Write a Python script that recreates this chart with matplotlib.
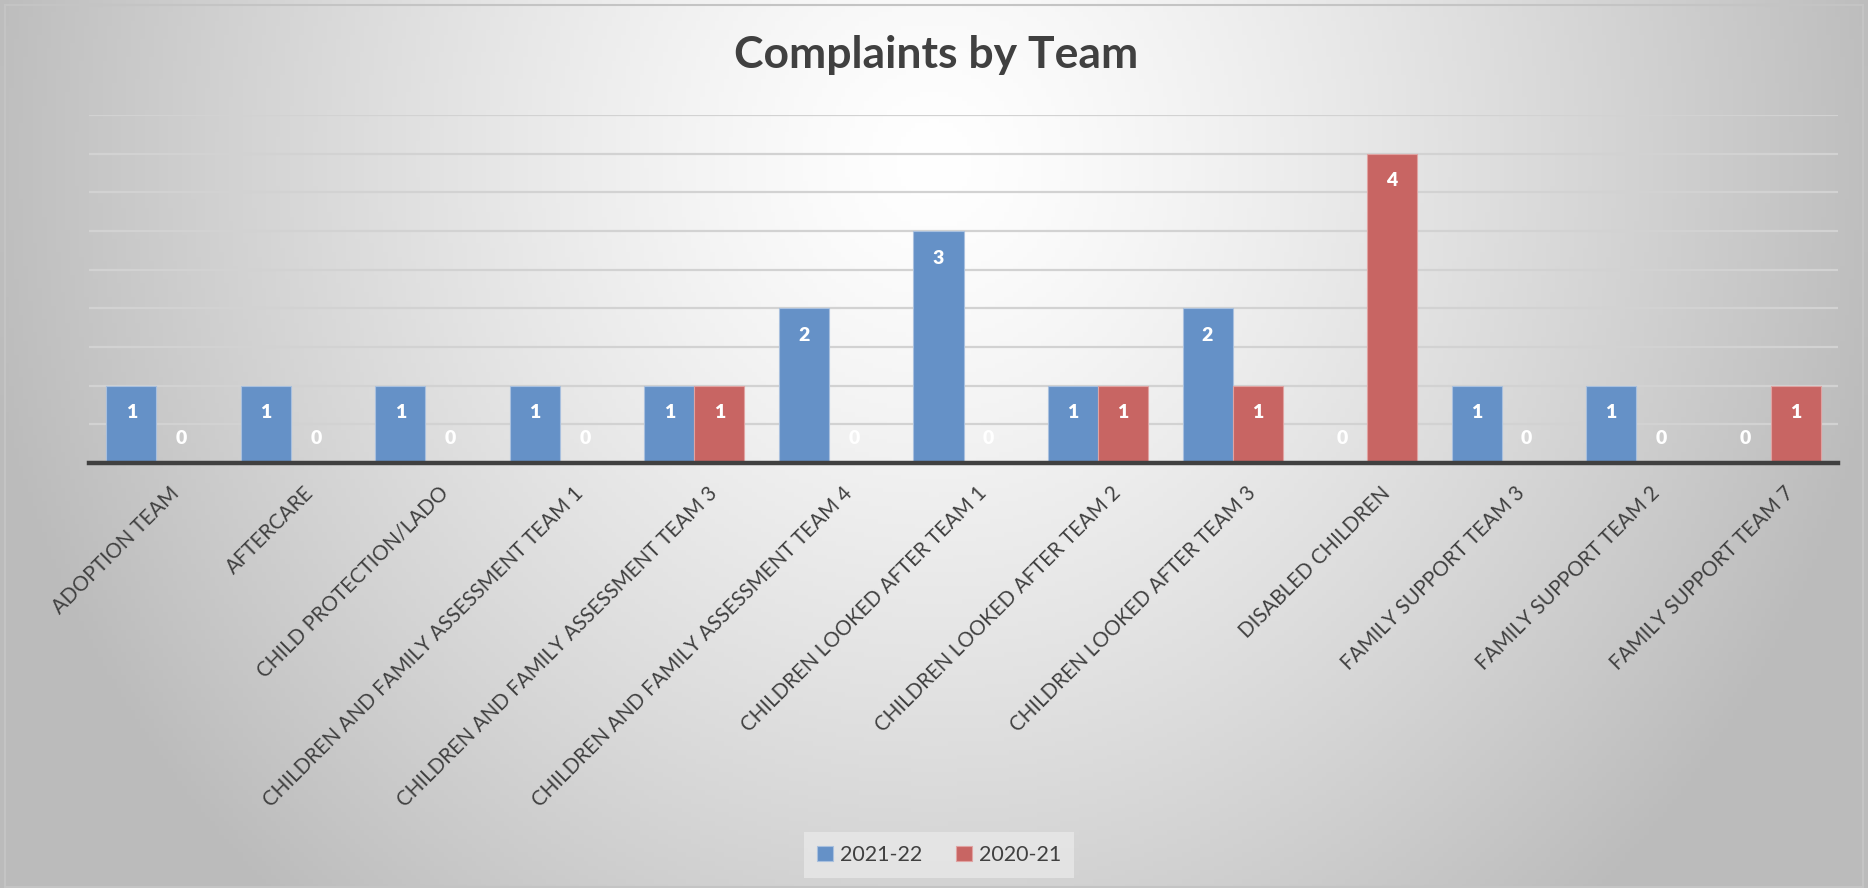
import numpy as np
import matplotlib
matplotlib.use("Agg")
import matplotlib.pyplot as plt
import matplotlib.transforms as mtransforms
from matplotlib.patches import Rectangle

teams = ["ADOPTION TEAM", "AFTERCARE", "CHILD PROTECTION/LADO",
         "CHILDREN AND FAMILY ASSESSMENT TEAM 1",
         "CHILDREN AND FAMILY ASSESSMENT TEAM 3",
         "CHILDREN AND FAMILY ASSESSMENT TEAM 4",
         "CHILDREN LOOKED AFTER TEAM 1", "CHILDREN LOOKED AFTER TEAM 2",
         "CHILDREN LOOKED AFTER TEAM 3", "DISABLED CHILDREN",
         "FAMILY SUPPORT TEAM 3", "FAMILY SUPPORT TEAM 2",
         "FAMILY SUPPORT TEAM 7"]
y2122 = [1, 1, 1, 1, 1, 2, 3, 1, 2, 0, 1, 1, 0]
y2021 = [0, 0, 0, 0, 1, 0, 0, 1, 1, 4, 0, 0, 1]
series = ["2021-22", "2020-21"]

blue = "#6591c7"
red = "#c86563"
dark = "#404040"

plt.rcParams['font.family'] = ['Lato', 'DejaVu Sans']

W, H = 1868, 888
fig = plt.figure(figsize=(W / 100, H / 100), dpi=100)

# radial grey -> white background
bg = fig.add_axes([0, 0, 1, 1], zorder=-10)
gx, gy = np.meshgrid(np.linspace(0, 1, 400), np.linspace(0, 1, 200))
d = np.sqrt(((gx - 0.5) / 0.52) ** 2 + ((gy - 0.18) / 1.15) ** 2)
shade = 255 - 68 * np.clip(d, 0, 1) ** 1.3
img = np.dstack([shade, shade, shade]) / 255
bg.imshow(img, extent=[0, 1, 0, 1], aspect='auto', origin='upper')
bg.set_axis_off()
fig.patches.append(Rectangle((5 / W, 1 / H), (W - 10) / W, (H - 6) / H,
                             transform=fig.transFigure, fill=False,
                             edgecolor="#c4c4c4", lw=1.5))

ax = fig.add_axes([89 / W, 1 - 463 / H, (1838 - 89) / W, (463 - 115) / H])
ax.set_facecolor("none")

x = np.arange(len(teams))
w = 0.372
b1 = ax.bar(x - w / 2, y2122, w, color=blue, edgecolor="#a9c0de", lw=0.8,
            label=series[0], zorder=3)
b2 = ax.bar(x + w / 2, y2021, w, color=red, edgecolor="#e0a3a2", lw=0.8,
            label=series[1], zorder=3)

for bars in (b1, b2):
    for rect in bars:
        v = rect.get_height()
        cx = rect.get_x() + rect.get_width() / 2
        off = -27 if v > 0 else 25
        ax.annotate(f"{int(v)}", (cx, v), xytext=(0, off),
                    textcoords="offset pixels", ha="center", va="center",
                    color="white", fontsize=14, fontweight="heavy", zorder=4)

ax.set_xlim(-0.5, len(teams) - 0.5)
ax.set_ylim(0, 4.5)
ax.set_yticks(np.arange(0.5, 4.51, 0.5))
ax.yaxis.grid(True, color="#d2d2d2", lw=1.6, zorder=0)
ax.tick_params(axis="y", left=False, labelleft=False)
ax.tick_params(axis="x", length=0, pad=0)
for s in ["top", "right", "left"]:
    ax.spines[s].set_visible(False)
ax.spines["bottom"].set_color(dark)
ax.spines["bottom"].set_linewidth(3.2)
ax.spines["bottom"].set_zorder(5)

ax.set_xticks(x)
ax.set_xticklabels(teams, rotation=45, ha="right", va="top",
                   rotation_mode="anchor", fontsize=14.8, color=dark)
shift = mtransforms.ScaledTranslation(13 / 100, -20 / 100, fig.dpi_scale_trans)
for lab in ax.get_xticklabels():
    lab.set_transform(lab.get_transform() + shift)

fig.text(0.501, 1 - 55 / H, "Complaints by Team", ha="center", va="center",
         fontsize=32, fontweight="bold", color=dark)

leg = fig.legend(handles=[b1, b2], loc="center", ncol=2,
                 bbox_to_anchor=(939 / W, 1 - 855 / H), fontsize=15.5,
                 frameon=True, fancybox=False, handlelength=0.75,
                 handleheight=0.75, handletextpad=0.3, columnspacing=1.6,
                 borderpad=0.6, labelcolor=dark)
leg.get_frame().set_facecolor("#e8e8e8")
leg.get_frame().set_edgecolor("none")
leg.get_frame().set_alpha(0.8)

fig.savefig("out.png", dpi=100)
